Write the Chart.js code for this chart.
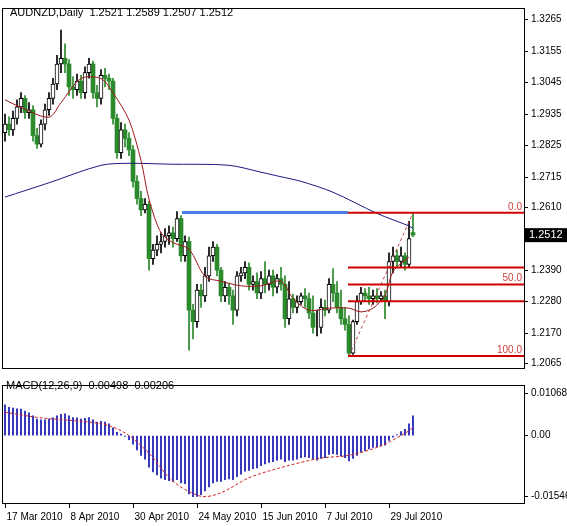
<!DOCTYPE html>
<html>
<head>
<meta charset="utf-8">
<script src="https://cdn.jsdelivr.net/npm/chart.js@4/dist/chart.umd.min.js"></script>
<style>
  html, body { margin: 0; padding: 0; background: #fff; }
  #wrap { position: relative; width: 567px; height: 526px; overflow: hidden; }
  #wrap div { position: absolute; left: 0; }
</style>
</head>
<body>
<div id="wrap">
  <div style="top:0"><canvas id="priceChart" width="567" height="377"></canvas></div>
  <div style="top:377px"><canvas id="macdChart" width="567" height="149"></canvas></div>
</div>
<script>
// daily bars, index 0 = first bar on screen
const opens = [1.2870,1.2900,1.2880,1.2920,1.2960,1.2990,1.2940,1.2950,1.2860,1.2830,
  1.2900,1.2950,1.2990,1.3040,1.3110,1.3130,1.3110,1.3030,1.3020,1.3050,
  1.3010,1.3080,1.3110,1.3010,1.2990,1.3070,1.3060,1.3050,1.2920,1.2800,
  1.2880,1.2850,1.2810,1.2700,1.2640,1.2600,1.2620,1.2430,1.2460,1.2480,
  1.2490,1.2510,1.2520,1.2500,1.2570,1.2440,1.2490,1.2250,1.2210,1.2320,
  1.2300,1.2370,1.2440,1.2470,1.2390,1.2300,1.2330,1.2300,1.2250,1.2370,
  1.2380,1.2400,1.2340,1.2350,1.2310,1.2360,1.2340,1.2370,1.2330,1.2360,
  1.2340,1.2220,1.2290,1.2260,1.2280,1.2300,1.2290,1.2240,1.2190,1.2190,
  1.2260,1.2250,1.2340,1.2310,1.2260,1.2220,1.2200,1.2100,1.2210,1.2280,
  1.2310,1.2300,1.2290,1.2300,1.2290,1.2300,1.2280,1.2420,1.2440,1.2420,
  1.2440,1.2410,1.2521];
const highs = [1.2935,1.2925,1.2945,1.2985,1.3010,1.3000,1.2975,1.2965,1.2885,1.2915,
  1.2970,1.3010,1.3060,1.3140,1.3228,1.3180,1.3125,1.3065,1.3075,1.3070,
  1.3100,1.3130,1.3120,1.3035,1.3090,1.3095,1.3075,1.3060,1.2935,1.2905,
  1.2900,1.2870,1.2825,1.2720,1.2665,1.2640,1.2630,1.2480,1.2510,1.2520,
  1.2535,1.2545,1.2540,1.2594,1.2580,1.2510,1.2505,1.2270,1.2340,1.2340,
  1.2400,1.2470,1.2490,1.2480,1.2400,1.2350,1.2345,1.2320,1.2385,1.2400,
  1.2420,1.2415,1.2370,1.2380,1.2385,1.2420,1.2390,1.2390,1.2375,1.2400,
  1.2370,1.2350,1.2305,1.2300,1.2310,1.2325,1.2310,1.2300,1.2250,1.2290,
  1.2285,1.2360,1.2395,1.2350,1.2320,1.2260,1.2230,1.2215,1.2300,1.2330,
  1.2325,1.2330,1.2320,1.2325,1.2315,1.2320,1.2450,1.2470,1.2460,1.2470,
  1.2450,1.2560,1.2589];
const lows = [1.2840,1.2860,1.2860,1.2900,1.2940,1.2920,1.2920,1.2840,1.2815,1.2820,
  1.2880,1.2930,1.2970,1.3020,1.3080,1.3080,1.3000,1.2990,1.3000,1.2990,
  1.2990,1.3060,1.2990,1.2960,1.2970,1.3030,1.3020,1.2900,1.2780,1.2780,
  1.2820,1.2790,1.2680,1.2620,1.2580,1.2590,1.2390,1.2410,1.2440,1.2450,
  1.2470,1.2480,1.2470,1.2490,1.2420,1.2420,1.2110,1.2150,1.2190,1.2260,
  1.2280,1.2350,1.2420,1.2370,1.2280,1.2280,1.2270,1.2200,1.2230,1.2350,
  1.2360,1.2320,1.2320,1.2290,1.2290,1.2310,1.2320,1.2300,1.2310,1.2320,
  1.2190,1.2200,1.2240,1.2240,1.2270,1.2260,1.2220,1.2170,1.2160,1.2170,
  1.2230,1.2240,1.2280,1.2240,1.2200,1.2180,1.2090,1.2095,1.2200,1.2270,
  1.2280,1.2270,1.2270,1.2275,1.2280,1.2220,1.2265,1.2380,1.2400,1.2400,
  1.2390,1.2400,1.2507];
const closes = [1.2900,1.2880,1.2920,1.2960,1.2990,1.2940,1.2950,1.2860,1.2830,1.2900,
  1.2950,1.2990,1.3040,1.3110,1.3130,1.3110,1.3030,1.3020,1.3050,1.3010,
  1.3080,1.3110,1.3010,1.2990,1.3070,1.3060,1.3050,1.2920,1.2800,1.2880,
  1.2850,1.2810,1.2700,1.2640,1.2600,1.2620,1.2430,1.2460,1.2480,1.2490,
  1.2510,1.2520,1.2500,1.2570,1.2440,1.2490,1.2250,1.2210,1.2320,1.2300,
  1.2370,1.2440,1.2470,1.2390,1.2300,1.2330,1.2300,1.2250,1.2370,1.2380,
  1.2400,1.2340,1.2350,1.2310,1.2360,1.2340,1.2370,1.2330,1.2360,1.2340,
  1.2220,1.2290,1.2260,1.2280,1.2300,1.2290,1.2240,1.2190,1.2190,1.2260,
  1.2250,1.2340,1.2310,1.2260,1.2220,1.2200,1.2100,1.2210,1.2280,1.2310,
  1.2300,1.2290,1.2300,1.2290,1.2300,1.2280,1.2420,1.2440,1.2420,1.2440,
  1.2410,1.2500,1.2512];

// moving averages read at sample bars
const maFastIdx = [0,4,11,14,19,24,27,31,34,36,39,42,46,50,54,59,64,69,72,76,81,86,89,92,95,97,101];
const maFastVal = [1.2985,1.2958,1.2924,1.2975,1.3059,1.3059,1.3009,1.2914,1.2773,1.2638,1.2520,1.2486,1.2463,1.2368,1.2351,1.2335,1.2335,1.2351,1.2291,1.2250,1.2257,1.2257,1.2244,1.2257,1.2301,1.2385,1.2436];
const maSlowIdx = [0,11,24,31,41,56,64,69,74,82,93,101,102];
const maSlowVal = [1.2645,1.2695,1.2756,1.2763,1.2760,1.2756,1.2732,1.2716,1.2700,1.2662,1.2588,1.2544,1.2535];

// fibonacci from swing low to swing high
const fibStartIdx = 86;
const fibLow = 1.2090, fibHigh = 1.2590;
const fibLevels = [1.2590, 1.2399, 1.2340, 1.2281, 1.2090];
const fibLabels = [[1.2590, '0.0'], [1.2340, '50.0'], [1.2090, '100.0']];
const resistLine = { from: 44.25, to: 85.75, price: 1.2591 };

const macd = [0.0078,0.0072,0.0070,0.0068,0.0067,0.0062,0.0058,0.0050,0.0042,0.0040,
  0.0040,0.0042,0.0045,0.0050,0.0054,0.0055,0.0050,0.0046,0.0045,0.0042,
  0.0044,0.0046,0.0040,0.0034,0.0036,0.0034,0.0030,0.0020,0.0008,0.0004,
  -0.0002,-0.0010,-0.0022,-0.0036,-0.0050,-0.0060,-0.0080,-0.0092,-0.0100,-0.0108,
  -0.0112,-0.0114,-0.0116,-0.0112,-0.0120,-0.0122,-0.0148,-0.0155,-0.0154,-0.0150,
  -0.0140,-0.0130,-0.0120,-0.0116,-0.0116,-0.0112,-0.0110,-0.0112,-0.0104,-0.0098,
  -0.0090,-0.0088,-0.0084,-0.0082,-0.0076,-0.0072,-0.0068,-0.0066,-0.0062,-0.0060,
  -0.0066,-0.0062,-0.0062,-0.0060,-0.0056,-0.0054,-0.0056,-0.0060,-0.0062,-0.0058,
  -0.0056,-0.0048,-0.0046,-0.0048,-0.0052,-0.0056,-0.0064,-0.0058,-0.0050,-0.0042,
  -0.0038,-0.0034,-0.0030,-0.0028,-0.0026,-0.0024,-0.0012,-0.0004,0.0002,0.0010,
  0.0016,0.0030,0.0050];
const signalIdx = [0,9,24,30,36,42,49,54,61,69,79,86,94,101,102];
const signalVal = [0.0059,0.0045,0.0030,0.0007,-0.0045,-0.0116,-0.0154,-0.0145,-0.0107,-0.0081,-0.0057,-0.0050,-0.0026,0.0012,0.0021];

const priceTicks = [1.3265,1.3155,1.3045,1.2935,1.2825,1.2715,1.2610,1.2390,1.2280,1.2170,1.2065];
const macdTicks = [0.01068, 0, -0.01546];
const macdTickLabels = ['0.01068', '0.00', '-0.01546'];
const dateIdx = [0,16,32,48,64,80,96];
const dateLabels = ['17 Mar 2010','8 Apr 2010','30 Apr 2010','24 May 2010','15 Jun 2010','7 Jul 2010','29 Jul 2010'];

const FONT = 'Liberation Sans, Arial, sans-serif';
const GREEN = '#2b8a2b';
const X_MIN = -0.5, X_MAX = 129.75;

const bull = [], bear = [], bullWick = [], bearWick = [];
closes.forEach((c, i) => {
  const up = c >= opens[i];
  (up ? bull : bear).push({ x: i, y: [opens[i], c] });
  (up ? bullWick : bearWick).push({ x: i, y: [lows[i], highs[i]] });
});

function pts(idx, vals) { return idx.map((x, k) => ({ x: x, y: vals[k] })); }
function hline(a, b, p) { return [{ x: a, y: p }, { x: b, y: p }]; }

const baseX = { type: 'linear', min: X_MIN, max: X_MAX, offset: false, display: false };

const framePlugin = {
  id: 'frame',
  afterDraw(chart) {
    const ctx = chart.ctx, a = chart.chartArea;
    ctx.save();
    ctx.strokeStyle = '#000';
    ctx.lineWidth = 1;
    ctx.strokeRect(a.left - 0.5, a.top - 0.5, a.right - a.left + 1, a.bottom - a.top + 1);
    ctx.restore();
  }
};

const priceExtras = {
  id: 'priceExtras',
  afterDraw(chart) {
    const ctx = chart.ctx, a = chart.chartArea, y = chart.scales.y;
    ctx.save();
    ctx.font = '11px ' + FONT;
    ctx.fillStyle = '#000';
    ctx.textBaseline = 'middle';
    ctx.fillText('AUDNZD,Daily  1.2521 1.2589 1.2507 1.2512', 10, 13);
    // fib level labels
    ctx.font = '10px ' + FONT;
    ctx.fillStyle = '#d04040';
    ctx.textAlign = 'right';
    ctx.textBaseline = 'bottom';
    fibLabels.forEach(([p, t]) => ctx.fillText(t, a.right - 2, y.getPixelForValue(p) - 1));
    // current price box
    const py = y.getPixelForValue(closes[closes.length - 1]);
    ctx.fillStyle = '#000';
    ctx.fillRect(a.right + 1, py - 7, 42, 14);
    ctx.fillStyle = '#fff';
    ctx.textAlign = 'left';
    ctx.textBaseline = 'middle';
    ctx.font = '11px ' + FONT;
    ctx.fillText(closes[closes.length - 1].toFixed(4), a.right + 5, py);
    ctx.restore();
  }
};

new Chart(document.getElementById('priceChart'), {
  type: 'bar',
  data: {
    datasets: [
      { data: bullWick, backgroundColor: '#000', barThickness: 1, grouped: false, order: 5 },
      { data: bearWick, backgroundColor: GREEN, barThickness: 1, grouped: false, order: 5 },
      { data: bull, backgroundColor: '#fff', borderColor: '#000', borderWidth: 1, borderSkipped: false, barThickness: 4, grouped: false, order: 4 },
      { data: bear, backgroundColor: GREEN, borderColor: GREEN, borderWidth: 0, barThickness: 4, grouped: false, order: 4 },
      { type: 'line', data: pts(maSlowIdx, maSlowVal), borderColor: '#1a1a80', borderWidth: 1, pointRadius: 0, tension: 0.3, order: 3 },
      { type: 'line', data: pts(maFastIdx, maFastVal), borderColor: '#a01818', borderWidth: 1, pointRadius: 0, tension: 0.3, order: 2 },
      { type: 'line', data: hline(resistLine.from, resistLine.to, resistLine.price), borderColor: '#4a7be6', borderWidth: 3, pointRadius: 0, order: 1 },
      ...fibLevels.map(p => ({ type: 'line', data: hline(fibStartIdx - 0.25, X_MAX, p), borderColor: '#d00000', borderWidth: 2, pointRadius: 0, order: 1 })),
      { type: 'line', data: [{ x: fibStartIdx, y: fibLow }, { x: 102, y: fibHigh }], borderColor: '#c04040', borderWidth: 1, borderDash: [3, 3], pointRadius: 0, order: 1 }
    ]
  },
  options: {
    responsive: false,
    animation: false,
    layout: { padding: { left: 3, top: 3, bottom: 2, right: 0 } },
    plugins: { legend: { display: false }, tooltip: { enabled: false } },
    scales: {
      x: baseX,
      y: {
        position: 'right', min: 1.2048, max: 1.3302,
        afterFit: s => { s.width = 43; },
        afterBuildTicks: s => { s.ticks = priceTicks.map(v => ({ value: v })); },
        ticks: { callback: v => v.toFixed(4), color: '#000', font: { family: FONT, size: 10 }, padding: 3 },
        grid: { drawOnChartArea: false, tickLength: 4, color: '#000' },
        border: { display: false }
      }
    }
  },
  plugins: [framePlugin, priceExtras]
});

const macdExtras = {
  id: 'macdExtras',
  afterDraw(chart) {
    const ctx = chart.ctx, a = chart.chartArea, x = chart.scales.x;
    ctx.save();
    ctx.font = '11px ' + FONT;
    ctx.fillStyle = '#000';
    ctx.textBaseline = 'middle';
    ctx.fillText('MACD(12,26,9)  0.00498  0.00206', 6, 9);
    ctx.font = '10px ' + FONT;
    ctx.strokeStyle = '#000';
    ctx.lineWidth = 1;
    dateIdx.forEach((i, k) => {
      const px = Math.round(x.getPixelForValue(i)) + 0.5;
      ctx.beginPath();
      ctx.moveTo(px, a.bottom + 1);
      ctx.lineTo(px, a.bottom + 5);
      ctx.stroke();
      ctx.fillText(dateLabels[k], px + 1, 140);
    });
    ctx.restore();
  }
};

new Chart(document.getElementById('macdChart'), {
  type: 'bar',
  data: {
    datasets: [
      { data: macd.map((v, i) => ({ x: i, y: v })), backgroundColor: '#1010b0', barThickness: 1, grouped: false, order: 2 },
      { type: 'line', data: pts(signalIdx, signalVal), borderColor: '#d02020', borderWidth: 1, borderDash: [3, 2], pointRadius: 0, tension: 0.3, order: 1 }
    ]
  },
  options: {
    responsive: false,
    animation: false,
    layout: { padding: { left: 3, top: 1, bottom: 23, right: 0 } },
    plugins: { legend: { display: false }, tooltip: { enabled: false } },
    scales: {
      x: baseX,
      y: {
        position: 'right', min: -0.01709, max: 0.01258,
        afterFit: s => { s.width = 43; },
        afterBuildTicks: s => { s.ticks = macdTicks.map(v => ({ value: v })); },
        ticks: { callback: (v, k) => macdTickLabels[k], color: '#000', font: { family: FONT, size: 10 }, padding: 3 },
        grid: { drawOnChartArea: false, tickLength: 4, color: '#000' },
        border: { display: false }
      }
    }
  },
  plugins: [framePlugin, macdExtras]
});
</script>
</body>
</html>
